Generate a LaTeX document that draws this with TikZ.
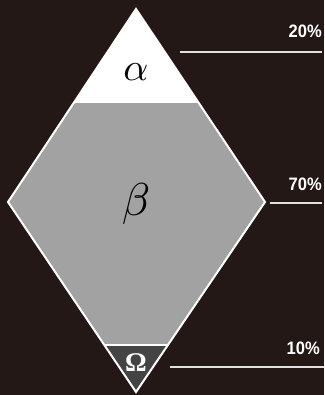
\documentclass[tikz,border=0pt]{standalone}
\usepackage{fontspec}
\setsansfont{Liberation Sans}
\newfontfamily\omegafont{Liberation Serif}
\usetikzlibrary{calc}
\definecolor{bgdark}{HTML}{231815}
\definecolor{dotgray}{HTML}{A2A2A2}
\definecolor{dotdark}{HTML}{444444}
\begin{document}
\begin{tikzpicture}[x=1pt,y=-1pt,line join=miter,
  pct/.style={text=white,font=\sffamily\bfseries\fontsize{18}{18}\selectfont,anchor=east,inner sep=0pt,xscale=0.92},
  rule/.style={draw=white!88!black,line width=1.3pt}]
  \fill[bgdark] (0,0) rectangle (324,395);
  % corners of the diamond
  \coordinate (top) at (136,9);
  \coordinate (left) at (8,202);
  \coordinate (right) at (265,202);
  \coordinate (bot) at (136,392);
  \coordinate (al) at ($(top)!0.482!(left)$);
  \coordinate (ar) at ($(top)!0.482!(right)$);
  \coordinate (ol) at ($(bot)!0.247!(left)$);
  \coordinate (or) at ($(bot)!0.247!(right)$);
  % layers
  \fill[white] (top) -- (al) -- (ar) -- cycle;
  \fill[dotgray] (al) -- (left) -- (ol) -- (or) -- (right) -- (ar) -- cycle;
  \fill[dotdark] (ol) -- (bot) -- (or) -- cycle;
  \draw[white,line width=1.2pt] (al) -- (ar);
  \draw[white,line width=1.8pt] (ol) -- (or);
  \draw[white,line width=2pt] (top) -- (left) -- (bot) -- (right) -- cycle;
  \node[scale=3.9] (alpha) at (136,72) {$\alpha$};
  \node[scale=4.6] (beta) at (136,204) {$\beta$};
  \node[text=white,font=\omegafont\bfseries\fontsize{27}{27}\selectfont] (omega) at (136,363) {Ω};
  % percentages
  \node[pct] (p20) at (322,31) {20\%};
  \node[pct] (p70) at (322,184) {70\%};
  \node[pct] (p10) at (320,348) {10\%};
  \coordinate (r20) at (180,52);
  \coordinate (r70) at (270,203);
  \coordinate (r10) at (170,367);
  \draw[rule] (r20) -- (r20 -| p20.east);
  \draw[rule] (r70) -- (r70 -| p70.east);
  \draw[rule] (r10) -- ($(r10 -| p10.east)+(4,0)$);
\end{tikzpicture}
\end{document}
